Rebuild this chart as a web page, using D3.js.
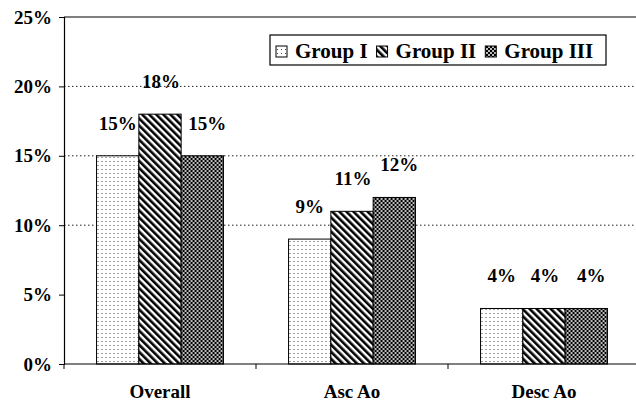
<!DOCTYPE html>
<html>
<head>
<meta charset="utf-8">
<script src="https://cdn.jsdelivr.net/npm/d3@7"></script>
<style>
  html, body { margin: 0; padding: 0; background: #fff; }
  svg { display: block; }
</style>
</head>
<body>
<svg id="chart" width="636" height="403"></svg>
<script>
// ---- data ----
const categories = ["Overall", "Asc Ao", "Desc Ao"];
const seriesNames = ["Group I", "Group II", "Group III"];
const groupI   = [15, 9, 4];
const groupII  = [18, 11, 4];
const groupIII = [15, 12, 4];
const yTicks = [0, 5, 10, 15, 20, 25];
const gridValues = [10, 15, 20];

(function () {
const FONT = '"Liberation Serif", "Times New Roman", serif';

const seriesValues = [groupI, groupII, groupIII];
const rows = categories.map((c, i) => ({
  category: c,
  values: seriesNames.map((s, j) => ({ series: s, idx: j, value: seriesValues[j][i] }))
}));

const svg = d3.select("#chart");
const pLeft = 64, pRight = 640, pTop = 17, pBottom = 364;

const x0 = d3.scaleBand().domain(categories).range([pLeft, pRight])
  .paddingInner(0.339).paddingOuter(0.1695);
const x1 = d3.scaleBand().domain(seriesNames).range([0, x0.bandwidth()]).padding(0);
const y = d3.scaleLinear().domain([0, 25]).range([pBottom, pTop]);

// ---- patterns ----
const defs = svg.append("defs");
const pDots = defs.append("pattern").attr("id", "pat0").attr("patternUnits", "userSpaceOnUse")
  .attr("width", 4).attr("height", 4);
pDots.append("rect").attr("width", 4).attr("height", 4).attr("fill", "#fff");
pDots.append("rect").attr("x", 1).attr("y", 1).attr("width", 1).attr("height", 1).attr("fill", "#444");

const pStripe = defs.append("pattern").attr("id", "pat1").attr("patternUnits", "userSpaceOnUse")
  .attr("width", 5).attr("height", 5).attr("patternTransform", "rotate(-45)");
pStripe.append("rect").attr("width", 5).attr("height", 5).attr("fill", "#fff");
pStripe.append("rect").attr("width", 2.6).attr("height", 5).attr("fill", "#000");

const pCheck = defs.append("pattern").attr("id", "pat2").attr("patternUnits", "userSpaceOnUse")
  .attr("width", 4).attr("height", 4);
pCheck.append("rect").attr("width", 4).attr("height", 4).attr("fill", "#bbb");
pCheck.append("rect").attr("width", 2).attr("height", 2).attr("fill", "#000");
pCheck.append("rect").attr("x", 2).attr("y", 2).attr("width", 2).attr("height", 2).attr("fill", "#000");

const fills = ["url(#pat0)", "url(#pat1)", "url(#pat2)"];

// ---- dotted gridlines ----
svg.append("g").selectAll("line").data(gridValues).join("line")
  .attr("x1", pLeft).attr("x2", pRight)
  .attr("y1", d => y(d)).attr("y2", d => y(d))
  .attr("stroke", "#222").attr("stroke-width", 1)
  .attr("stroke-dasharray", "1.5,2.5");

// top frame line
svg.append("line").attr("x1", pLeft).attr("x2", pRight)
  .attr("y1", y(25)).attr("y2", y(25)).attr("stroke", "#000").attr("stroke-width", 1.2);

// ---- bars ----
const g = svg.append("g").selectAll("g").data(rows).join("g")
  .attr("transform", d => `translate(${x0(d.category)},0)`);
g.selectAll("rect").data(d => d.values).join("rect")
  .attr("x", d => x1(d.series))
  .attr("y", d => y(d.value))
  .attr("width", x1.bandwidth())
  .attr("height", d => y(0) - y(d.value))
  .attr("fill", d => fills[d.idx])
  .attr("stroke", "#000").attr("stroke-width", 1);

// value labels
const labelShift = [0, 1, 5];
g.selectAll("text.val").data(d => d.values).join("text").attr("class", "val")
  .attr("x", d => x1(d.series) + x1.bandwidth() / 2 + labelShift[d.idx])
  .attr("y", d => y(d.value) - 26)
  .attr("text-anchor", "middle")
  .attr("font-family", FONT).attr("font-weight", "bold").attr("font-size", 19)
  .text(d => d.value + "%");

// ---- y axis ----
const yAxis = d3.axisLeft(y).tickValues(yTicks).tickFormat(d => d + "%").tickSize(5).tickPadding(7);
const ya = svg.append("g").attr("transform", `translate(${pLeft},0)`).call(yAxis)
  .attr("font-family", FONT).attr("font-size", 19).attr("font-weight", "bold");
ya.select(".domain").attr("stroke", "#000").attr("stroke-width", 1.2);
ya.selectAll("text").attr("fill", "#000");

// ---- x axis ----
svg.append("line").attr("x1", pLeft).attr("x2", pRight).attr("y1", y(0)).attr("y2", y(0))
  .attr("stroke", "#000").attr("stroke-width", 1.2);
const boundaries = categories.map(c => x0(c) - x0.step() * x0.paddingOuter()).concat([pRight]);
svg.append("g").selectAll("line").data(boundaries).join("line")
  .attr("x1", d => d).attr("x2", d => d).attr("y1", y(0)).attr("y2", y(0) + 5)
  .attr("stroke", "#000").attr("stroke-width", 1);
svg.append("g").selectAll("text").data(categories).join("text")
  .attr("x", d => x0(d) + x0.bandwidth() / 2)
  .attr("y", 398)
  .attr("text-anchor", "middle")
  .attr("font-family", FONT).attr("font-weight", "bold").attr("font-size", 19)
  .text(d => d);

// ---- legend ----
const legend = svg.append("g");
legend.append("rect").attr("x", 270).attr("y", 35).attr("width", 336).attr("height", 30)
  .attr("fill", "#fff").attr("stroke", "#000").attr("stroke-width", 1.2);
let lx = 276;
seriesNames.forEach((s, i) => {
  legend.append("rect").attr("x", lx).attr("y", 46).attr("width", 11).attr("height", 11)
    .attr("fill", fills[i]).attr("stroke", "#000").attr("stroke-width", 1);
  const t = legend.append("text").attr("x", lx + 19).attr("y", 58)
    .attr("font-family", FONT).attr("font-weight", "bold").attr("font-size", 21).text(s);
  const w = t.node().getComputedTextLength();
  lx += 19 + w + 9;
});
})();
</script>
</body>
</html>
